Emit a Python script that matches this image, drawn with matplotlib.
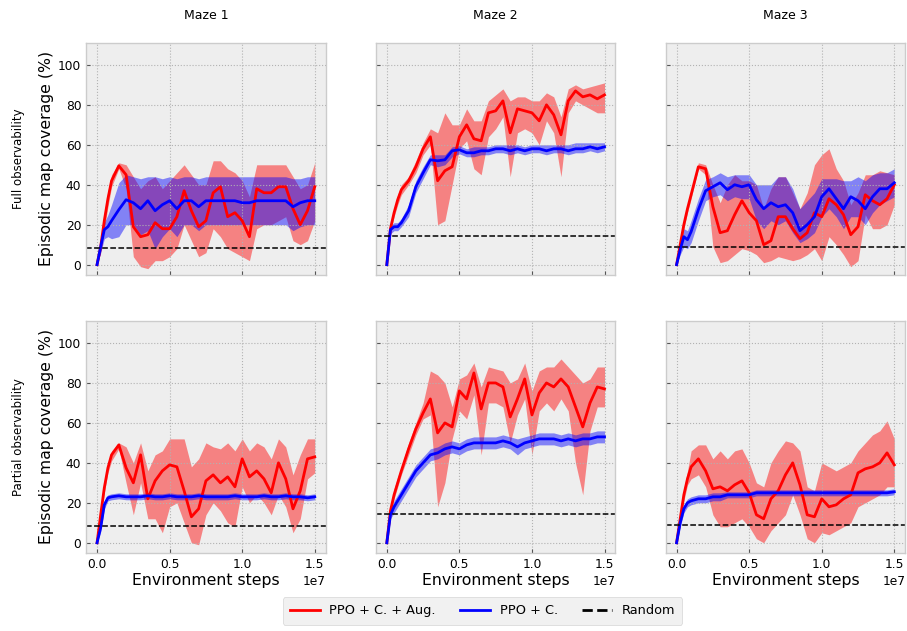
import numpy as np
import matplotlib
matplotlib.use("Agg")
import matplotlib.pyplot as plt
from matplotlib.lines import Line2D

# environment steps (in units of 1e7)
STEPS = [0, 0.025, 0.05, 0.075, 0.1, 0.15, 0.2, 0.25, 0.3, 0.35, 0.4, 0.45, 0.5,
         0.55, 0.6, 0.65, 0.7, 0.75, 0.8, 0.85, 0.9, 0.95, 1.0, 1.05, 1.1, 1.15,
         1.2, 1.25, 1.3, 1.35, 1.4, 1.45, 1.5]

MAZES = ["Maze 1", "Maze 2", "Maze 3"]
ROWS = ["Full observability", "Partial observability"]
RANDOM = [8.5, 14.5, 9]

# ---- Full observability ----
M1_FULL_AUG = [0, 9, 22, 33, 42, 49.5, 45, 19, 14, 15, 21, 18, 18, 24, 37, 27, 19, 22, 36, 39, 24, 26, 22, 14, 38, 36, 36, 39, 39, 28, 20, 27, 39]
M1_FULL_AUG_LO = [0, 6, 18, 29, 39, 48, 38, 4, -1, -2, 2, 2, 4, 8, 20, 12, 4, 6, 18, 14, 8, 6, 4, 2, 18, 20, 20, 22, 24, 12, 10, 12, 22]
M1_FULL_AUG_HI = [0, 12, 26, 37, 45, 51, 50, 44, 38, 42, 44, 38, 42, 46, 50, 45, 40, 40, 52, 52, 48, 46, 42, 34, 50, 50, 50, 50, 50, 44, 38, 40, 51]
M1_FULL_C = [0, 9, 17.5, 19, 22, 27.5, 32.5, 31, 28, 32, 27, 30, 32, 28, 32, 32, 29, 32, 32, 32, 32, 32, 31, 31, 32, 32, 32, 32, 32, 29, 31, 32, 32]
M1_FULL_C_LO = [0, 6, 13, 14, 13, 14, 20, 20, 15, 17, 8, 14, 18, 14, 20, 20, 17, 20, 20, 20, 20, 20, 20, 20, 20, 20, 20, 20, 20, 17, 19, 20, 20]
M1_FULL_C_HI = [0, 11, 21, 25, 30, 41, 45, 44, 43, 44, 44, 43, 44, 43, 44, 44, 43, 44, 44, 44, 44, 44, 44, 44, 44, 44, 44, 44, 44, 43, 43, 44, 44]

M2_FULL_AUG = [0, 18, 26, 32.5, 37.5, 42, 49, 58, 64, 42, 47, 49, 64, 70, 63, 62, 76, 77, 82, 66, 78, 77, 76, 72, 80, 75, 65, 82, 87, 84, 85, 83, 85]
M2_FULL_AUG_LO = [0, 16, 24, 30, 35, 40, 46, 55, 60, 20, 22, 40, 58, 62, 48, 45, 64, 68, 74, 44, 66, 68, 66, 60, 72, 66, 44, 76, 82, 80, 78, 76, 76]
M2_FULL_AUG_HI = [0, 20, 28, 35, 40, 44, 52, 61, 68, 66, 76, 70, 70, 78, 72, 72, 82, 85, 88, 82, 84, 84, 82, 82, 86, 84, 74, 88, 90, 88, 89, 90, 91]
M2_FULL_C = [0, 17.5, 19, 19, 21, 27, 39, 46, 52.5, 52, 52.5, 57, 57.5, 56, 56, 57, 57, 58, 58, 57, 58, 57, 58, 58, 57, 58, 58, 57, 58, 58, 59, 58, 59]
M2_FULL_C_LO = [0, 15.5, 17, 17, 19, 24, 36, 43, 50, 49, 50, 54, 55.5, 54, 54, 55, 55, 56, 56, 55, 56, 55, 56, 56, 55, 56, 56, 55, 56, 56, 57, 56, 57]
M2_FULL_C_HI = [0, 19.5, 21, 21, 23, 30, 42, 49, 55, 55, 55, 59, 59.5, 58, 59, 59, 59, 60, 60, 60, 60, 59, 60, 60, 60, 60, 60, 60, 61, 61, 61, 61, 61]

M3_FULL_AUG = [0, 10, 20, 28, 35, 49, 48, 29, 16, 17, 25, 32, 26, 22, 10, 12, 24, 24, 18, 13, 16, 26, 24, 33, 30, 25, 15, 19, 35, 32, 30, 33, 40]
M3_FULL_AUG_LO = [0, 8, 18, 26, 33, 48, 45, 9, 1, 2, 5, 8, 7, 5, 1, 2, 4, 3, 2, 3, 5, 8, 2, 14, 10, 5, -1, 2, 25, 18, 18, 20, 30]
M3_FULL_AUG_HI = [0, 12, 22, 30, 37, 51, 50, 40, 31, 40, 45, 42, 42, 40, 28, 38, 44, 44, 36, 28, 36, 50, 55, 58, 48, 42, 30, 36, 45, 45, 47, 46, 45]
M3_FULL_C = [0, 7.5, 14, 12.5, 16.5, 27.5, 37, 39, 41, 37.5, 40, 39, 40, 32.5, 28, 31, 29, 30, 26, 17, 20, 24, 34, 38, 33, 28, 34, 32, 28, 34, 38, 38, 41]
M3_FULL_C_LO = [0, 5, 9, 8, 11, 22, 32, 34, 35, 32, 34, 33, 33, 22, 18, 22, 20, 22, 16, 11, 13, 16, 24, 28, 24, 18, 24, 24, 20, 26, 30, 32, 34]
M3_FULL_C_HI = [0, 10, 18, 17, 22, 33, 42.5, 44, 46, 44, 45, 45, 45, 40, 40, 40, 44, 44, 38, 28, 32, 36, 43, 43, 43, 42, 42, 44, 42, 45, 46, 46, 48]

# ---- Partial observability ----
M1_PART_AUG = [0, 14, 27.5, 37.5, 44, 49, 37.5, 30, 44, 22, 31, 36, 39, 38, 26, 13, 17, 31, 34, 30, 33, 28, 42, 33, 36, 32, 25, 40, 32, 17, 26, 42, 43]
M1_PART_AUG_LO = [0, 12, 25, 35, 41, 47, 30, 14, 30, 12, 12, 5, 18, 20, 10, 0, -1, 14, 20, 16, 10, 8, 28, 20, 24, 20, 14, 24, 18, 5, 12, 32, 35]
M1_PART_AUG_HI = [0, 16, 30, 40, 46, 50, 48, 40, 50, 36, 44, 46, 52, 52, 52, 38, 42, 50, 48, 47, 50, 46, 52, 46, 50, 48, 42, 52, 48, 34, 44, 52, 52]
M1_PART_C = [0, 7.5, 19, 22.5, 23, 23.5, 23, 23, 23, 23.5, 23, 23, 23.5, 23, 23, 23, 23.5, 23, 23, 23, 23, 23.5, 23, 23, 23, 23.5, 23, 23, 23.5, 23, 23, 22.5, 23]
M1_PART_C_LO = [0, 5.5, 17, 21, 21.5, 22, 21.5, 21.5, 21.5, 22, 21.5, 21.5, 22, 21.5, 21.5, 21.5, 22, 21.5, 21.5, 21.5, 21.5, 22, 21.5, 21.5, 21.5, 22, 21.5, 21.5, 22, 21.5, 21.5, 21, 21.5]
M1_PART_C_HI = [0, 9.5, 21, 24, 24.5, 25, 24.5, 24.5, 24.5, 25, 24.5, 24.5, 25, 24.5, 24.5, 24.5, 25, 24.5, 24.5, 24.5, 24.5, 25, 24.5, 24.5, 24.5, 25, 24.5, 24.5, 25, 24.5, 24.5, 24, 24.5]

M2_PART_AUG = [0, 16, 24, 30, 36, 47, 57, 65, 72, 55, 60, 58, 76, 72, 85, 67, 80, 80, 78, 63, 72, 82, 64, 75, 80, 78, 82, 78, 68, 58, 70, 78, 77]
M2_PART_AUG_LO = [0, 14, 22, 28, 34, 44, 54, 62, 64, 18, 30, 52, 66, 62, 74, 44, 70, 70, 68, 50, 64, 72, 44, 66, 70, 66, 72, 66, 40, 24, 56, 68, 68]
M2_PART_AUG_HI = [0, 18, 27, 33, 38, 50, 60, 70, 86, 84, 80, 68, 82, 84, 90, 78, 88, 87, 86, 80, 82, 90, 76, 86, 88, 88, 92, 88, 84, 80, 82, 88, 88]
M2_PART_C = [0, 14, 18, 21, 24, 30, 36, 40, 44, 45, 47, 48, 47, 49, 50, 50, 50, 50, 51, 50, 48, 50, 51, 52, 52, 52, 51, 52, 51, 52, 52, 53, 53]
M2_PART_C_LO = [0, 12, 15, 18, 21, 27, 33, 37, 41, 42, 44, 45, 44, 46, 47, 47, 47, 47, 48, 47, 44, 47, 48, 49, 49, 49, 48, 49, 48, 49, 49, 50, 50]
M2_PART_C_HI = [0, 16, 21, 24, 27, 33, 39, 43, 47, 48, 50, 51, 50, 52, 53, 53, 53, 53, 54, 53, 52, 53, 54, 55, 55, 55, 54, 55, 54, 55, 55, 56, 56]

M3_PART_AUG = [0, 12, 24, 32, 38, 42, 36, 27, 28, 26, 29, 31, 25, 14, 12, 22, 26, 34, 40, 29, 14, 13, 22, 18, 19, 22, 24, 35, 37, 38, 40, 45, 39]
M3_PART_AUG_LO = [0, 10, 21, 29, 32, 34, 28, 14, 8, 8, 10, 12, 8, 2, 0, 6, 10, 14, 24, 14, 2, 0, 5, 4, 6, 8, 10, 18, 20, 22, 24, 28, 28]
M3_PART_AUG_HI = [0, 14, 27, 36, 46, 49, 49, 42, 46, 42, 46, 47, 40, 30, 28, 40, 46, 51, 50, 46, 28, 26, 40, 38, 36, 38, 40, 46, 50, 54, 56, 61, 52]
M3_PART_C = [0, 10, 17, 20, 21, 22, 22, 23, 23, 24, 24, 24, 24, 25, 25, 25, 25, 25, 25, 25, 25, 25, 25, 25, 25, 25, 25, 25, 25, 25, 25, 25, 25.5]
M3_PART_C_LO = [0, 8, 15, 18, 19, 20, 20, 21, 21, 22.5, 22.5, 22.5, 22.5, 23.5, 23.5, 23.5, 23.5, 23.5, 23.5, 23.5, 23.5, 23.5, 23.5, 23.5, 23.5, 23.5, 23.5, 23.5, 23.5, 23.5, 23.5, 23.5, 24]
M3_PART_C_HI = [0, 12, 19, 22, 23, 24, 24, 25, 25, 25.5, 25.5, 25.5, 25.5, 26.5, 26.5, 26.5, 26.5, 26.5, 26.5, 26.5, 26.5, 26.5, 26.5, 26.5, 26.5, 26.5, 26.5, 26.5, 26.5, 26.5, 26.5, 26.5, 27]

PANELS = [
    [(M1_FULL_AUG, M1_FULL_AUG_LO, M1_FULL_AUG_HI, M1_FULL_C, M1_FULL_C_LO, M1_FULL_C_HI),
     (M2_FULL_AUG, M2_FULL_AUG_LO, M2_FULL_AUG_HI, M2_FULL_C, M2_FULL_C_LO, M2_FULL_C_HI),
     (M3_FULL_AUG, M3_FULL_AUG_LO, M3_FULL_AUG_HI, M3_FULL_C, M3_FULL_C_LO, M3_FULL_C_HI)],
    [(M1_PART_AUG, M1_PART_AUG_LO, M1_PART_AUG_HI, M1_PART_C, M1_PART_C_LO, M1_PART_C_HI),
     (M2_PART_AUG, M2_PART_AUG_LO, M2_PART_AUG_HI, M2_PART_C, M2_PART_C_LO, M2_PART_C_HI),
     (M3_PART_AUG, M3_PART_AUG_LO, M3_PART_AUG_HI, M3_PART_C, M3_PART_C_LO, M3_PART_C_HI)],
]

plt.style.use("bmh")
plt.rcParams["font.family"] = ["DejaVu Sans"]

x = np.array(STEPS) * 1e7

fig, axes = plt.subplots(2, 3, figsize=(9.07, 6.31), dpi=100, sharex=True, sharey=True)
fig.subplots_adjust(left=0.095, right=0.998, top=0.932, bottom=0.124,
                    wspace=0.21, hspace=0.2)

for r in range(2):
    for c in range(3):
        ax = axes[r, c]
        aug, aug_lo, aug_hi, cur, cur_lo, cur_hi = PANELS[r][c]
        ax.fill_between(x, aug_lo, aug_hi, color="red", alpha=0.45, lw=0)
        ax.fill_between(x, cur_lo, cur_hi, color="blue", alpha=0.45, lw=0)
        ax.plot(x, aug, color="red", lw=2)
        ax.plot(x, cur, color="blue", lw=2)
        ax.axhline(RANDOM[c], color="black", ls="--", lw=1.1)

        ax.set_ylim(-5, 111)
        ax.set_yticks([0, 20, 40, 60, 80, 100])
        ax.set_xticks([0, 0.5e7, 1.0e7, 1.5e7])
        ax.grid(True, ls=":", lw=0.8, color="#b2b2b2")
        ax.tick_params(labelsize=8.8, direction="in", length=3, color="#555555")
        ax.xaxis.get_offset_text().set_fontsize(8.8)
        for sp in ax.spines.values():
            sp.set_color("#cccccc")
            sp.set_linewidth(1)

        if r == 0:
            ax.set_title(MAZES[c], fontsize=9, pad=17)
        if r == 1:
            ax.set_xlabel("Environment steps", fontsize=11.3, labelpad=2)
        if c == 0:
            ax.set_ylabel("Episodic map coverage (%)", fontsize=11.3, labelpad=3)

for r, name in enumerate(ROWS):
    box = axes[r, 0].get_position()
    fig.text(0.02, (box.y0 + box.y1) / 2, name, rotation=90, fontsize=8.5,
             ha="center", va="center")

handles = [
    Line2D([], [], color="red", lw=2),
    Line2D([], [], color="blue", lw=2),
    Line2D([], [], color="black", ls="--", lw=2),
]
fig.legend(handles, ["PPO + C. + Aug.", "PPO + C.", "Random"], loc="lower center",
           ncol=3, bbox_to_anchor=(0.532, 0.0), fontsize=9.3, frameon=True,
           facecolor="#eeeeee", edgecolor="#cccccc", handlelength=2.3,
           handletextpad=0.75, columnspacing=1.9, borderpad=0.55)

fig.savefig("out.png", dpi=100)
